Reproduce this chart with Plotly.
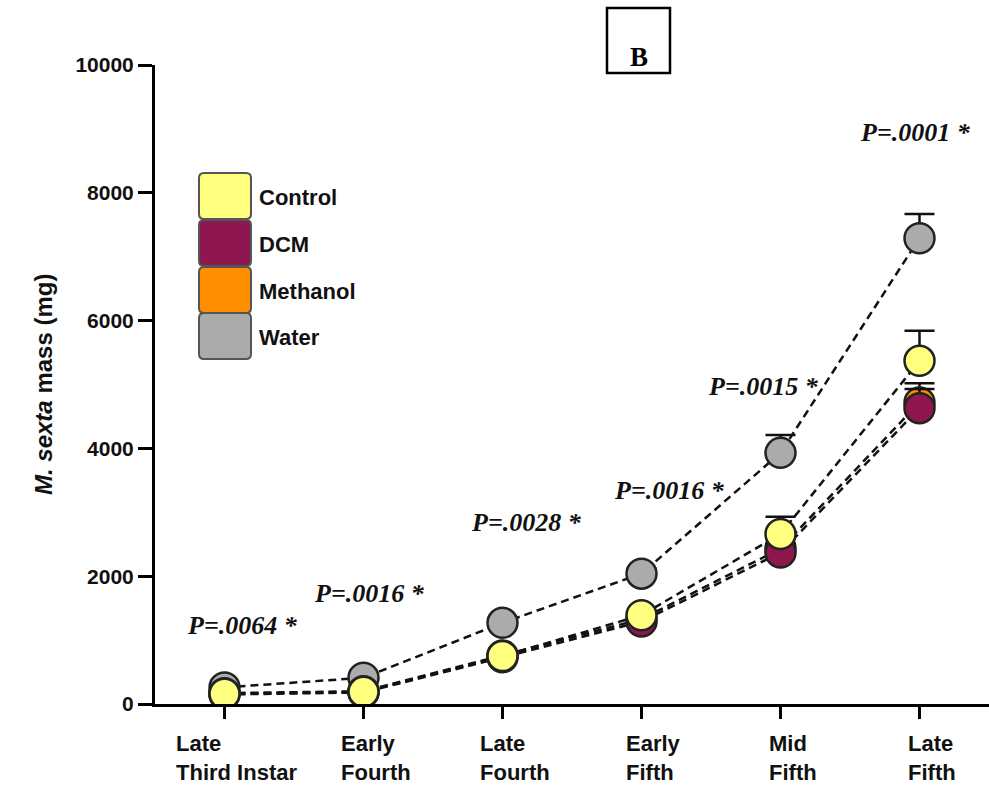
import plotly.graph_objects as go

# ---- data ----
stages = ["Late<br>Third Instar", "Early<br>Fourth", "Late<br>Fourth", "Early<br>Fifth", "Mid<br>Fifth", "Late<br>Fifth"]
control = [160, 190, 750, 1390, 2660, 5370]
dcm = [150, 180, 730, 1290, 2370, 4630]
methanol = [170, 200, 760, 1330, 2430, 4720]
water = [260, 410, 1270, 2040, 3930, 7290]
control_err = [20, 20, 40, 60, 270, 470]
dcm_err = [15, 15, 40, 50, 150, 300]
methanol_err = [20, 20, 40, 60, 150, 300]
water_err = [30, 40, 60, 80, 280, 380]
p_labels = ["P=.0064 *", "P=.0016 *", "P=.0028 *", "P=.0016 *", "P=.0015 *", "P=.0001 *"]
p_x = [0.13, 1.04, 2.17, 3.2, 3.88, 4.97]
p_y = [1236, 1737, 2848, 3349, 4961, 8936]

series = [
    ("Water", water, water_err, "#ABABAB"),
    ("Methanol", methanol, methanol_err, "#FF8F00"),
    ("DCM", dcm, dcm_err, "#8F174F"),
    ("Control", control, control_err, "#FFFF80"),
]
legend_order = ["Control", "DCM", "Methanol", "Water"]
colors = {n: c for n, _, _, c in series}

xs = list(range(len(stages)))
fig = go.Figure()

# dashed lines first
for name, vals, err, col in series:
    fig.add_trace(go.Scatter(x=xs, y=vals, mode="lines", showlegend=False,
                             line=dict(color="#111111", width=2.5, dash="8px,5px"),
                             hoverinfo="skip"))
# markers with upper error bars
for name, vals, err, col in series:
    fig.add_trace(go.Scatter(x=xs, y=vals, mode="markers", name=name, showlegend=False,
                             marker=dict(size=30, color=col, line=dict(color="#222222", width=2.5)),
                             error_y=dict(type="data", symmetric=False, array=err,
                                          arrayminus=[0] * len(err), color="#111111",
                                          thickness=2.5, width=15)))

# geometry helpers (pixel -> paper)
L, R, T, B = 155, 989, 65, 704
def px(x):
    return (x - L) / (R - L)
def py(y):
    return (B - y) / (B - T)

shapes = []
annotations = []
SANS = "Liberation Sans, Arial"
SERIF = "Liberation Serif, Times New Roman"

# legend boxes
box_tops = [173, 220, 267, 313]
box_h = 46
for i, name in enumerate(legend_order):
    x0, x1 = 199, 251
    y0, y1 = box_tops[i], box_tops[i] + box_h
    r = 5
    path = (f"M {px(x0+r)},{py(y0)} L {px(x1-r)},{py(y0)} Q {px(x1)},{py(y0)} {px(x1)},{py(y0+r)} "
            f"L {px(x1)},{py(y1-r)} Q {px(x1)},{py(y1)} {px(x1-r)},{py(y1)} "
            f"L {px(x0+r)},{py(y1)} Q {px(x0)},{py(y1)} {px(x0)},{py(y1-r)} "
            f"L {px(x0)},{py(y0+r)} Q {px(x0)},{py(y0)} {px(x0+r)},{py(y0)} Z")
    shapes.append(dict(type="path", path=path, xref="paper", yref="paper",
                       fillcolor=colors[name], line=dict(color="#555555", width=2)))
    annotations.append(dict(text=f"<b>{name}</b>", x=px(257), y=py(y0 + box_h / 2 + 1),
                            xref="paper", yref="paper", xanchor="left", yanchor="middle",
                            showarrow=False, font=dict(family=SANS, size=22, color="#111111")))

# B panel box
shapes.append(dict(type="rect", xref="paper", yref="paper", x0=px(607), x1=px(670), y0=py(73), y1=py(8),
                   line=dict(color="black", width=2.5), fillcolor="white"))
annotations.append(dict(text="<b>B</b>", x=px(638.5), y=py(40), xref="paper", yref="paper",
                        showarrow=False, font=dict(family=SERIF, size=27, color="black")))

# p-value labels
for t, xx, yy in zip(p_labels, p_x, p_y):
    annotations.append(dict(text=f"<b><i>{t}</i></b>", x=xx, y=yy, xref="x", yref="y", showarrow=False,
                            font=dict(family=SERIF, size=26, color="#111111")))

# x category labels
for i, lab in enumerate(stages):
    annotations.append(dict(text=f"<b>{lab}</b>", x=i, y=0, xref="x", yref="y", xanchor="center",
                            yanchor="top", align="left", xshift=12, yshift=-25, showarrow=False,
                            font=dict(family=SANS, size=22, color="#111111")))

# y title
annotations.append(dict(text="<i>M. sexta</i> mass (mg)", x=px(28), y=0.5, xref="paper", yref="paper",
                        textangle=-90, showarrow=False,
                        font=dict(family="Liberation Sans Narrow, Liberation Sans, Arial", size=24,
                                  weight="bold", color="#111111")))

fig.update_layout(
    width=989, height=789,
    margin=dict(l=L, r=989 - R, t=T, b=789 - B),
    paper_bgcolor="white", plot_bgcolor="white",
    shapes=shapes, annotations=annotations,
    showlegend=False,
)
fig.update_xaxes(range=[-0.5, 5.5], tickvals=xs, showticklabels=False, showgrid=False, zeroline=False,
                 showline=True, linecolor="black", linewidth=3, ticks="outside", ticklen=12,
                 tickwidth=3, tickcolor="black")
fig.update_yaxes(range=[0, 10000], tickvals=[0, 2000, 4000, 6000, 8000, 10000], showgrid=False,
                 zeroline=False, showline=True, linecolor="black", linewidth=3, ticks="outside",
                 ticklen=14, tickwidth=3, tickcolor="black",
                 tickfont=dict(family=SANS, size=21, weight="bold", color="#111111"),
                 tickformat="d")

fig.write_html("out.html")
